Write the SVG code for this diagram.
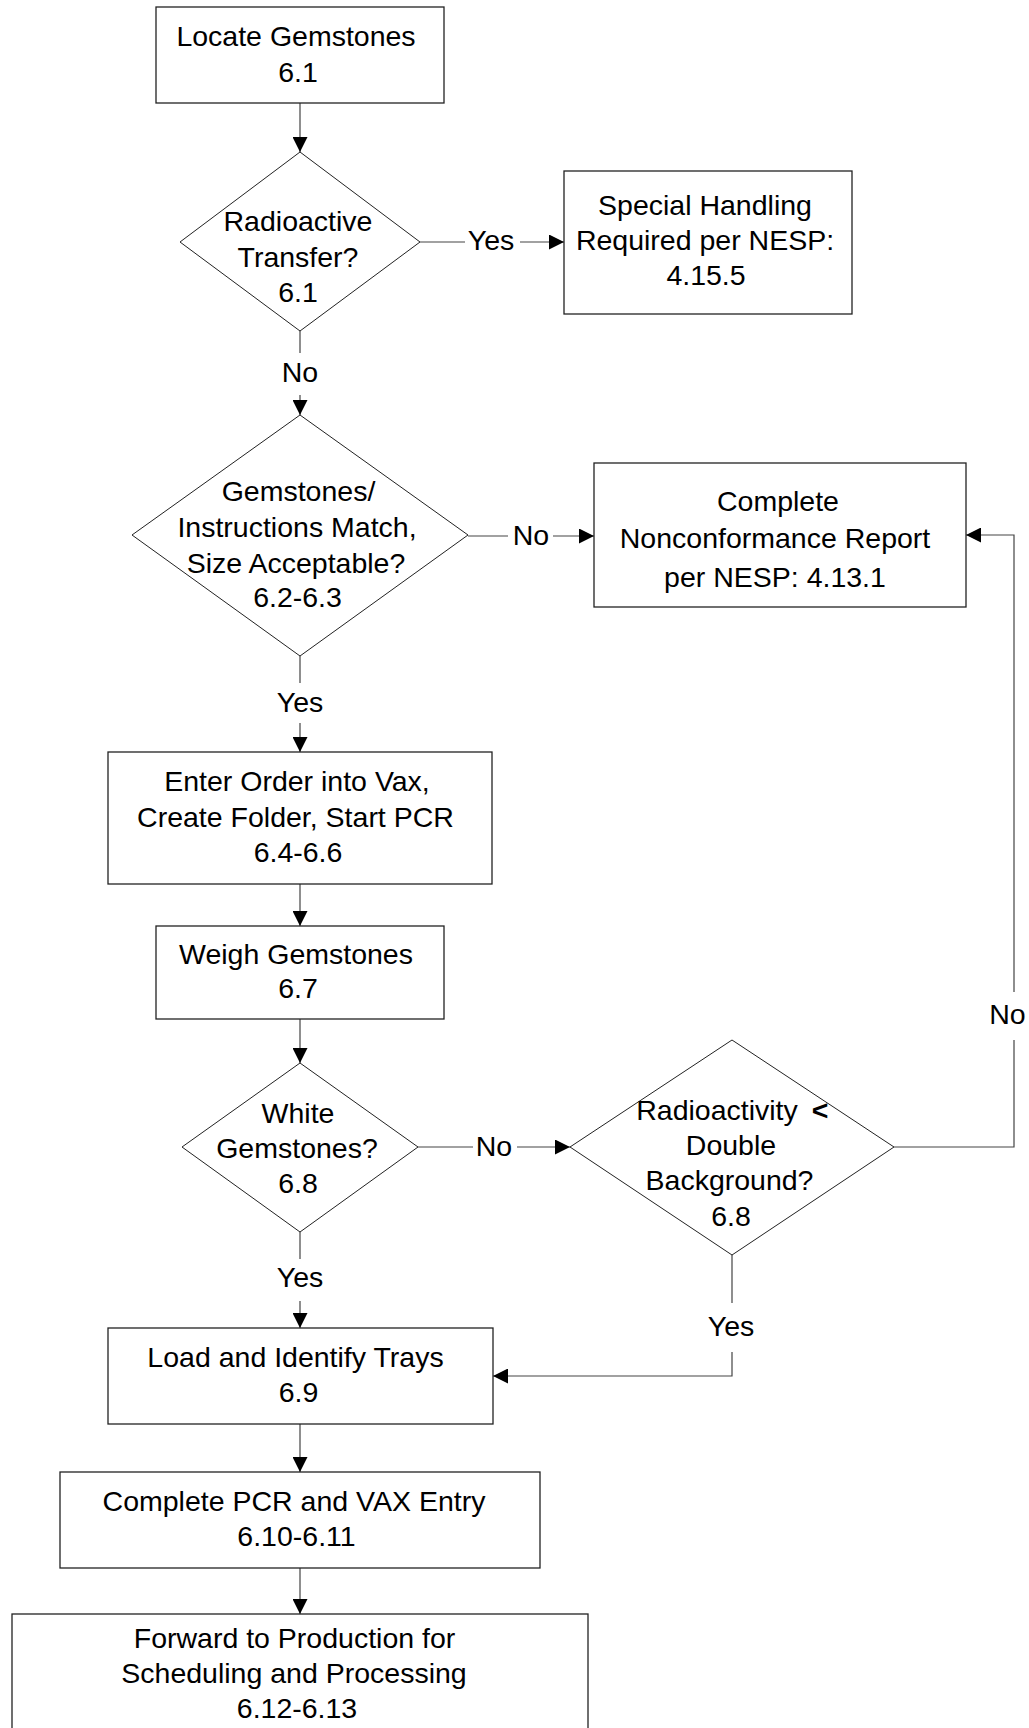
<svg xmlns="http://www.w3.org/2000/svg" width="1029" height="1728" viewBox="0 0 1029 1728">
<style>
  .box { fill: #fff; stroke: #222; stroke-width: 1.3; }
  .dia { fill: #fff; stroke: #222; stroke-width: 1; }
  .t { font-family: "Liberation Sans", Arial, sans-serif; font-size: 28.5px; fill: #000; text-anchor: middle; }
  .c { fill: none; stroke: #444; stroke-width: 1.2; }
  .ca { fill: none; stroke: #444; stroke-width: 1.2; marker-end: url(#arr); }
</style>
<defs>
  <marker id="arr" markerUnits="userSpaceOnUse" markerWidth="15" markerHeight="15" refX="15" refY="7.5" orient="auto">
    <path d="M0,0 L15,7.5 L0,15 z" fill="#000"/>
  </marker>
</defs>
<rect width="1029" height="1728" fill="#fff"/>

<g id="connectors">
  <path class="ca" d="M300,103 V152"/>
  <path class="c" d="M300,331 V353"/>
  <path class="ca" d="M300,395 V415"/>
  <path class="c" d="M420,242 H465"/>
  <path class="ca" d="M520,242 H564"/>
  <path class="c" d="M468,536 H508"/>
  <path class="ca" d="M553,536 H594"/>
  <path class="c" d="M300,656 V683"/>
  <path class="ca" d="M300,723 V752"/>
  <path class="ca" d="M300,884 V926"/>
  <path class="ca" d="M300,1019 V1063"/>
  <path class="c" d="M418,1147 H473"/>
  <path class="ca" d="M517,1147 H570"/>
  <path class="c" d="M300,1232 V1259"/>
  <path class="ca" d="M300,1301 V1328"/>
  <path class="c" d="M894,1147 H1014 V1040"/>
  <path class="ca" d="M1014,992 V535 H966"/>
  <path class="c" d="M732,1255 V1303"/>
  <path class="ca" d="M732,1352 V1376 H493"/>
  <path class="ca" d="M300,1424 V1472"/>
  <path class="ca" d="M300,1568 V1614"/>
  <text class="t" x="300" y="382">No</text>
  <text class="t" x="491" y="250">Yes</text>
  <text class="t" x="531" y="545">No</text>
  <text class="t" x="300" y="712">Yes</text>
  <text class="t" x="494" y="1156">No</text>
  <text class="t" x="300" y="1287">Yes</text>
  <text class="t" x="1007.5" y="1024">No</text>
  <text class="t" x="731" y="1336">Yes</text>
</g>

<g id="locate">
  <rect class="box" x="156" y="7" width="288" height="96"/>
  <text class="t" x="296" y="46">Locate Gemstones</text>
  <text class="t" x="298" y="82">6.1</text>
</g>

<g id="radioactive-transfer">
  <polygon class="dia" points="300,152 420,242 300,331 180,242"/>
  <text class="t" x="298" y="231">Radioactive</text>
  <text class="t" x="298" y="267">Transfer?</text>
  <text class="t" x="298" y="302">6.1</text>
</g>

<g id="special-handling">
  <rect class="box" x="564" y="171" width="288" height="143"/>
  <text class="t" x="705" y="215">Special Handling</text>
  <text class="t" x="705" y="250">Required per NESP:</text>
  <text class="t" x="706" y="285">4.15.5</text>
</g>

<g id="match">
  <polygon class="dia" points="300,415 468,535 300,656 132,535"/>
  <text class="t" x="298.5" y="501">Gemstones/</text>
  <text class="t" x="297" y="537">Instructions Match,</text>
  <text class="t" x="296" y="573">Size Acceptable?</text>
  <text class="t" x="297.5" y="607">6.2-6.3</text>
</g>

<g id="nonconformance">
  <rect class="box" x="594" y="463" width="372" height="144"/>
  <text class="t" x="778" y="511">Complete</text>
  <text class="t" x="775" y="548">Nonconformance Report</text>
  <text class="t" x="775" y="587">per NESP: 4.13.1</text>
</g>

<g id="enter-order">
  <rect class="box" x="108" y="752" width="384" height="132"/>
  <text class="t" x="297" y="791">Enter Order into Vax,</text>
  <text class="t" x="295.5" y="827">Create Folder, Start PCR</text>
  <text class="t" x="298" y="862">6.4-6.6</text>
</g>

<g id="weigh">
  <rect class="box" x="156" y="926" width="288" height="93"/>
  <text class="t" x="296" y="964">Weigh Gemstones</text>
  <text class="t" x="298" y="998">6.7</text>
</g>

<g id="white">
  <polygon class="dia" points="300,1063 418,1147 300,1232 182,1147"/>
  <text class="t" x="298" y="1123">White</text>
  <text class="t" x="297" y="1158">Gemstones?</text>
  <text class="t" x="298" y="1193">6.8</text>
</g>

<g id="radioactivity">
  <polygon class="dia" points="732,1040 894,1147 732,1255 570,1147"/>
  <text class="t" x="717" y="1120">Radioactivity</text>
  <text class="t" x="820" y="1120" font-weight="bold">&lt;</text>
  <text class="t" x="731" y="1155">Double</text>
  <text class="t" x="729.5" y="1190">Background?</text>
  <text class="t" x="731" y="1226">6.8</text>
</g>

<g id="load">
  <rect class="box" x="108" y="1328" width="385" height="96"/>
  <text class="t" x="295.5" y="1367">Load and Identify Trays</text>
  <text class="t" x="298.5" y="1402">6.9</text>
</g>

<g id="complete-pcr">
  <rect class="box" x="60" y="1472" width="480" height="96"/>
  <text class="t" x="294" y="1511">Complete PCR and VAX Entry</text>
  <text class="t" x="296.5" y="1546">6.10-6.11</text>
</g>

<g id="forward">
  <rect class="box" x="12" y="1614" width="576" height="130"/>
  <text class="t" x="294.5" y="1648">Forward to Production for</text>
  <text class="t" x="294" y="1683">Scheduling and Processing</text>
  <text class="t" x="297" y="1718">6.12-6.13</text>
</g>
</svg>
